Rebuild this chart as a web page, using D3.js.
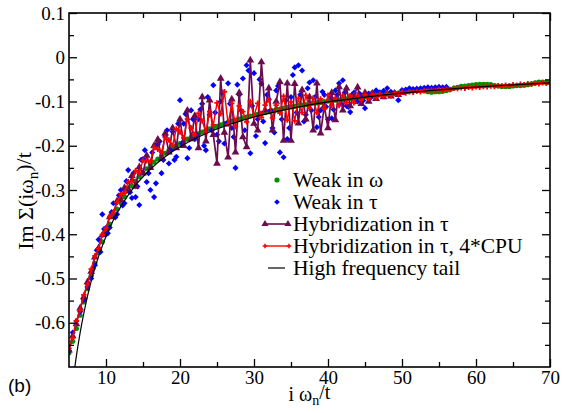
<!DOCTYPE html>
<html>
<head>
<meta charset="utf-8">
<script src="https://cdn.jsdelivr.net/npm/d3@7"></script>
<style>
  body { margin: 0; background: #fff; }
  svg { display: block; }
</style>
</head>
<body>
<div id="chart"></div>
<script>
// Matsubara frequencies i w_n / t
const freq = [5,5.5,6,6.5,7,7.5,8,8.5,9,9.5,10,10.5,11,11.5,12,12.5,13,13.5,14,14.5,
  15,15.5,16,16.5,17,17.5,18,18.5,19,19.5,20,20.5,21,21.5,22,22.5,23,23.5,24,24.5,
  25,25.5,26,26.5,27,27.5,28,28.5,29,29.5,30,30.5,31,31.5,32,32.5,33,33.5,34,34.5,
  35,35.5,36,36.5,37,37.5,38,38.5,39,39.5,40,40.5,41,41.5,42,42.5,43,43.5,44,44.5,
  45,45.5,46,46.5,47,47.5,48,48.5,49,49.5,50,50.5,51,51.5,52,52.5,53,53.5,54,54.5,
  55,55.5,56,56.5,57,57.5,58,58.5,59,59.5,60,60.5,61,61.5,62,62.5,63,63.5,64,64.5,
  65,65.5,66,66.5,67,67.5,68,68.5,69,69.5,70];

// in-between frequencies of the weak-in-tau run
const freqMid = [8.25,8.75,9.25,9.75,10.25,10.75,11.25,11.75,12.25,12.75,13.25,13.75,
  14.25,14.75,15.25,15.75,16.25,16.75,17.25,17.75,18.25,18.75,19.25,19.75,20.25,20.75,
  21.25,21.75,22.25,22.75,23.25,23.75,24.25,24.75,25.25,25.75,26.25,26.75,27.25,27.75,
  28.25,28.75,29.25,29.75,30.25,30.75,31.25,31.75,32.25,32.75,33.25,33.75,34.25,34.75,
  35.25,35.75,36.25,36.75,37.25,37.75,38.25,38.75,39.25,39.75,40.25,40.75,41.25,41.75,
  42.25,42.75,43.25,43.75,44.25,44.75,45.25,45.75];

// Weak coupling in omega (green)
const weakOmega = [-0.668,-0.642,-0.613,-0.583,-0.553,-0.523,-0.494,-0.466,-0.441,-0.417,
  -0.396,-0.377,-0.359,-0.343,-0.329,-0.315,-0.302,-0.291,-0.280,-0.270,
  -0.261,-0.252,-0.244,-0.237,-0.230,-0.223,-0.217,-0.211,-0.205,-0.200,
  -0.195,-0.190,-0.185,-0.181,-0.177,-0.173,-0.169,-0.165,-0.162,-0.159,
  -0.156,-0.153,-0.150,-0.147,-0.145,-0.142,-0.140,-0.137,-0.135,-0.133,
  -0.131,-0.129,-0.127,-0.125,-0.123,-0.121,-0.119,-0.117,-0.115,-0.114,
  -0.112,-0.111,-0.109,-0.108,-0.107,-0.105,-0.104,-0.103,-0.102,-0.100,
  -0.099,-0.098,-0.097,-0.096,-0.095,-0.094,-0.093,-0.092,-0.091,-0.090,
  -0.089,-0.088,-0.087,-0.086,-0.085,-0.084,-0.083,-0.082,-0.082,-0.081,
  -0.079,-0.078,-0.077,-0.076,-0.075,-0.075,-0.076,-0.078,-0.079,-0.078,
  -0.078,-0.077,-0.075,-0.073,-0.070,-0.068,-0.066,-0.065,-0.064,-0.063,
  -0.062,-0.061,-0.061,-0.061,-0.062,-0.064,-0.065,-0.066,-0.066,-0.066,
  -0.065,-0.064,-0.064,-0.063,-0.062,-0.060,-0.058,-0.056,-0.056,-0.057,
  -0.057];

// Weak coupling in tau (blue), first 103 frequencies
const weakTau = [-0.664,-0.622,-0.596,-0.575,-0.548,-0.519,-0.500,-0.470,-0.412,-0.355,
  -0.400,-0.385,-0.330,-0.355,-0.300,-0.330,-0.255,-0.318,-0.316,-0.334,
  -0.230,-0.282,-0.300,-0.316,-0.198,-0.262,-0.178,-0.240,-0.168,-0.225,
  -0.097,-0.150,-0.228,-0.120,-0.185,-0.140,-0.105,-0.210,-0.130,-0.063,
  -0.175,-0.100,-0.195,-0.059,-0.160,-0.250,-0.085,-0.048,-0.018,-0.217,
  -0.036,-0.140,-0.060,-0.194,-0.095,-0.160,-0.075,-0.215,-0.226,-0.185,
  -0.090,-0.023,-0.018,-0.030,-0.130,-0.057,-0.052,-0.158,-0.120,-0.085,
  -0.140,-0.138,-0.075,-0.059,-0.052,-0.110,-0.124,-0.080,-0.100,-0.088,
  -0.115,-0.082,-0.080,-0.075,-0.079,-0.076,-0.070,-0.078,-0.080,-0.097,
  -0.074,-0.073,-0.070,-0.072,-0.071,-0.070,-0.069,-0.068,-0.069,-0.068,
  -0.067,-0.068,-0.067];

// Weak coupling in tau (blue) at freqMid
const weakTauMid = [-0.478,-0.436,-0.440,-0.388,-0.398,-0.350,-0.362,-0.312,-0.335,-0.280,
  -0.305,-0.262,-0.292,-0.232,-0.210,-0.262,-0.215,-0.285,-0.190,-0.232,
  -0.165,-0.210,-0.232,-0.150,-0.195,-0.128,-0.205,-0.140,-0.175,-0.118,
  -0.200,-0.090,-0.165,-0.125,-0.190,-0.080,-0.150,-0.105,-0.180,-0.062,
  -0.120,-0.165,-0.030,-0.110,-0.178,-0.050,-0.145,-0.085,-0.120,-0.170,
  -0.065,-0.140,-0.098,-0.160,-0.040,-0.125,-0.085,-0.145,-0.070,-0.120,
  -0.090,-0.135,-0.078,-0.112,-0.090,-0.118,-0.085,-0.105,-0.080,-0.112,
  -0.085,-0.100,-0.082,-0.098,-0.084,-0.092];

// Hybridization in tau (maroon), first 91 frequencies
const hybTau = [-0.662,-0.630,-0.603,-0.567,-0.542,-0.508,-0.484,-0.452,-0.431,-0.402,
  -0.388,-0.361,-0.352,-0.325,-0.322,-0.295,-0.298,-0.268,-0.292,-0.248,
  -0.262,-0.222,-0.250,-0.200,-0.186,-0.228,-0.172,-0.215,-0.160,-0.205,
  -0.140,-0.200,-0.120,-0.185,-0.132,-0.205,-0.090,-0.190,-0.097,-0.175,
  -0.240,-0.048,-0.170,-0.226,-0.095,-0.215,-0.080,-0.180,-0.203,-0.007,
  -0.150,-0.165,-0.011,-0.120,-0.070,-0.165,-0.100,-0.056,-0.188,-0.059,
  -0.188,-0.060,-0.149,-0.074,-0.140,-0.090,-0.165,-0.059,-0.172,-0.110,
  -0.160,-0.080,-0.142,-0.067,-0.120,-0.070,-0.110,-0.085,-0.068,-0.105,
  -0.080,-0.100,-0.082,-0.094,-0.084,-0.090,-0.083,-0.088,-0.082,-0.085,
  -0.080];

// Hybridization in tau, 4*CPU (red)
const hybTau4 = [-0.658,-0.634,-0.596,-0.571,-0.537,-0.514,-0.479,-0.449,-0.432,-0.401,
  -0.386,-0.360,-0.351,-0.328,-0.310,-0.307,-0.281,-0.281,-0.256,-0.261,
  -0.233,-0.234,-0.235,-0.204,-0.208,-0.215,-0.181,-0.187,-0.199,-0.162,
  -0.169,-0.182,-0.140,-0.160,-0.175,-0.127,-0.144,-0.169,-0.123,-0.153,
  -0.103,-0.128,-0.078,-0.151,-0.104,-0.157,-0.110,-0.123,-0.146,-0.100,
  -0.133,-0.104,-0.136,-0.108,-0.096,-0.137,-0.108,-0.126,-0.088,-0.142,
  -0.101,-0.144,-0.093,-0.125,-0.086,-0.115,-0.092,-0.125,-0.094,-0.116,
  -0.086,-0.109,-0.092,-0.109,-0.086,-0.103,-0.087,-0.103,-0.086,-0.097,
  -0.085,-0.094,-0.084,-0.091,-0.083,-0.089,-0.082,-0.087,-0.081,-0.084,
  -0.079,-0.081,-0.078,-0.079,-0.077,-0.078,-0.075,-0.076,-0.074,-0.075,
  -0.073,-0.074,-0.072,-0.073,-0.070,-0.071,-0.069,-0.070,-0.068,-0.069,
  -0.067,-0.068,-0.066,-0.067,-0.065,-0.066,-0.064,-0.065,-0.063,-0.064,
  -0.062,-0.063,-0.061,-0.062,-0.060,-0.061,-0.059,-0.060,-0.058,-0.059,
  -0.057];

// High frequency tail (black line)
const tailX = [5.79,6,6.5,7,7.5,8,8.5,9,10,11,12,13,14,15,16,18,20,22,24,26,28,30,33,36,40,45,50,55,60,65,70];
const tailY = [-0.700,-0.675,-0.623,-0.579,-0.540,-0.506,-0.476,-0.450,-0.405,-0.368,-0.3375,-0.3115,
  -0.289,-0.270,-0.253,-0.225,-0.2025,-0.184,-0.169,-0.156,-0.145,-0.135,-0.123,-0.1125,
  -0.101,-0.090,-0.081,-0.0736,-0.0675,-0.0623,-0.0579];

const xTicks = [10, 20, 30, 40, 50, 60, 70];
const xMinor = [15, 25, 35, 45, 55, 65];
const yTicks = [0.1, 0, -0.1, -0.2, -0.3, -0.4, -0.5, -0.6];
const yMinor = [0.05, -0.05, -0.15, -0.25, -0.35, -0.45, -0.55, -0.65];
const legendLabels = ["Weak in ω", "Weak in τ", "Hybridization in τ", "Hybridization in τ, 4*CPU", "High frequency tail"];

const W = 574, H = 413;
const margin = { top: 13, right: 24, bottom: 46, left: 69 };
const serif = "Liberation Serif, Times New Roman, serif";

const svg = d3.select("#chart").append("svg")
  .attr("width", W)
  .attr("height", H);

const x = d3.scaleLinear().domain([5, 70]).range([margin.left, W - margin.right]);
const y = d3.scaleLinear().domain([-0.7, 0.1]).range([H - margin.bottom, margin.top]);

svg.append("clipPath").attr("id", "plotClip")
  .append("rect")
  .attr("x", margin.left).attr("y", margin.top)
  .attr("width", W - margin.left - margin.right)
  .attr("height", H - margin.top - margin.bottom);

const plot = svg.append("g").attr("clip-path", "url(#plotClip)");

const pts = (xs, ys) => ys.map((v, i) => ({ x: xs[i], y: v }));
const line = d3.line().x(d => x(d.x)).y(d => y(d.y));

const green = "#009100", blue = "#0000ff", maroon = "#6a0c4e", red = "#ff0000";

// weak in omega
plot.append("g").selectAll("circle")
  .data(pts(freq, weakOmega))
  .enter().append("circle")
  .attr("cx", d => x(d.x))
  .attr("cy", d => y(d.y))
  .attr("r", 2.6)
  .attr("fill", green);

// weak in tau
plot.append("g").selectAll("path")
  .data(pts(freq, weakTau).concat(pts(freqMid, weakTauMid)))
  .enter().append("path")
  .attr("transform", d => `translate(${x(d.x)},${y(d.y)})`)
  .attr("d", d3.symbol(d3.symbolDiamond2, 24))
  .attr("fill", blue);

// hybridization in tau
plot.append("path")
  .datum(pts(freq, hybTau))
  .attr("fill", "none")
  .attr("stroke", maroon)
  .attr("stroke-width", 1.7)
  .attr("d", line);

plot.append("g").selectAll("path")
  .data(pts(freq, hybTau))
  .enter().append("path")
  .attr("transform", d => `translate(${x(d.x)},${y(d.y)})`)
  .attr("d", d3.symbol(d3.symbolTriangle, 26))
  .attr("fill", maroon);

// hybridization in tau, 4*CPU
plot.append("path")
  .datum(pts(freq, hybTau4))
  .attr("fill", "none")
  .attr("stroke", red)
  .attr("stroke-width", 1.4)
  .attr("d", line);

plot.append("g").selectAll("path")
  .data(pts(freq, hybTau4))
  .enter().append("path")
  .attr("transform", d => `translate(${x(d.x)},${y(d.y)})`)
  .attr("d", d3.symbol(d3.symbolCross, 16))
  .attr("fill", red);

// high frequency tail
plot.append("path")
  .datum(pts(tailX, tailY))
  .attr("fill", "none")
  .attr("stroke", "#000")
  .attr("stroke-width", 1.2)
  .attr("d", line.curve(d3.curveMonotoneX));

// axes, ticks pointing inward on all four sides
const yTickFmt = d => d === 0 ? "0" : d.toFixed(1);
const x0 = margin.left, x1 = W - margin.right, y0 = H - margin.bottom, y1 = margin.top;

function styleAxis(g) {
  g.select(".domain").remove();
  g.selectAll(".tick line").attr("stroke-width", 1.3);
  g.attr("font-family", serif).attr("font-size", 19);
  g.selectAll(".tick text").attr("fill", "#000");
}

svg.append("g").attr("transform", `translate(0,${y0})`)
  .call(d3.axisBottom(x).tickValues(xTicks).tickSize(-8).tickPadding(4).tickFormat(d3.format("d")))
  .call(styleAxis);
svg.append("g").attr("transform", `translate(0,${y0})`)
  .call(d3.axisBottom(x).tickValues(xMinor).tickSize(-5).tickFormat(""))
  .call(styleAxis);
svg.append("g").attr("transform", `translate(0,${y1})`)
  .call(d3.axisTop(x).tickValues(xTicks).tickSize(-8).tickFormat(""))
  .call(styleAxis);
svg.append("g").attr("transform", `translate(0,${y1})`)
  .call(d3.axisTop(x).tickValues(xMinor).tickSize(-5).tickFormat(""))
  .call(styleAxis);

svg.append("g").attr("transform", `translate(${x0},0)`)
  .call(d3.axisLeft(y).tickValues(yTicks).tickSize(-8).tickPadding(4).tickFormat(yTickFmt))
  .call(styleAxis);
svg.append("g").attr("transform", `translate(${x0},0)`)
  .call(d3.axisLeft(y).tickValues(yMinor).tickSize(-5).tickFormat(""))
  .call(styleAxis);
svg.append("g").attr("transform", `translate(${x1},0)`)
  .call(d3.axisRight(y).tickValues(yTicks).tickSize(-8).tickFormat(""))
  .call(styleAxis);
svg.append("g").attr("transform", `translate(${x1},0)`)
  .call(d3.axisRight(y).tickValues(yMinor).tickSize(-5).tickFormat(""))
  .call(styleAxis);

svg.append("rect")
  .attr("x", x0).attr("y", y1)
  .attr("width", x1 - x0).attr("height", y0 - y1)
  .attr("fill", "none")
  .attr("stroke", "#000")
  .attr("stroke-width", 1.6);

// axis titles
const xt = svg.append("text")
  .attr("x", (x0 + x1) / 2)
  .attr("y", 401)
  .attr("text-anchor", "middle")
  .attr("font-family", serif)
  .attr("font-size", 20);
xt.append("tspan").text("i ω");
xt.append("tspan").attr("dy", "0.3em").attr("font-size", 14).text("n");
xt.append("tspan").attr("dy", "-0.3em").text("/t");

const yt = svg.append("text")
  .attr("transform", "translate(33,201) rotate(-90)")
  .attr("text-anchor", "middle")
  .attr("font-family", serif)
  .attr("font-size", 22);
yt.append("tspan").text("Im Σ(iω");
yt.append("tspan").attr("dy", "0.35em").attr("font-size", 15).text("n");
yt.append("tspan").attr("dy", "-0.35em").text(")/t");

svg.append("text")
  .attr("x", 8)
  .attr("y", 392)
  .attr("font-family", "Liberation Sans, Arial, sans-serif")
  .attr("font-size", 19)
  .text("(b)");

// legend
const legend = svg.append("g");
const rowY = i => 180 + 22 * i;
const symX = 277;

legend.append("circle").attr("cx", symX).attr("cy", rowY(0)).attr("r", 2.6).attr("fill", green);
legend.append("path")
  .attr("transform", `translate(${symX},${rowY(1)})`)
  .attr("d", d3.symbol(d3.symbolDiamond2, 20))
  .attr("fill", blue);

legend.append("line")
  .attr("x1", 265).attr("x2", 288).attr("y1", rowY(2)).attr("y2", rowY(2))
  .attr("stroke", maroon).attr("stroke-width", 1.6);
[265, 288].forEach(px => legend.append("path")
  .attr("transform", `translate(${px},${rowY(2)})`)
  .attr("d", d3.symbol(d3.symbolTriangle, 22))
  .attr("fill", maroon));

legend.append("line")
  .attr("x1", 265).attr("x2", 289).attr("y1", rowY(3)).attr("y2", rowY(3))
  .attr("stroke", red).attr("stroke-width", 1.4);
[265, 289].forEach(px => legend.append("path")
  .attr("transform", `translate(${px},${rowY(3)})`)
  .attr("d", d3.symbol(d3.symbolCross, 12))
  .attr("fill", red));

legend.append("line")
  .attr("x1", 268).attr("x2", 285).attr("y1", rowY(4)).attr("y2", rowY(4))
  .attr("stroke", "#000").attr("stroke-width", 1.2);

legend.selectAll("text.lab")
  .data(legendLabels)
  .enter().append("text")
  .attr("class", "lab")
  .attr("x", 293)
  .attr("y", (d, i) => rowY(i) + 7)
  .attr("font-family", serif)
  .attr("font-size", 21.5)
  .text(d => d);
</script>
</body>
</html>
